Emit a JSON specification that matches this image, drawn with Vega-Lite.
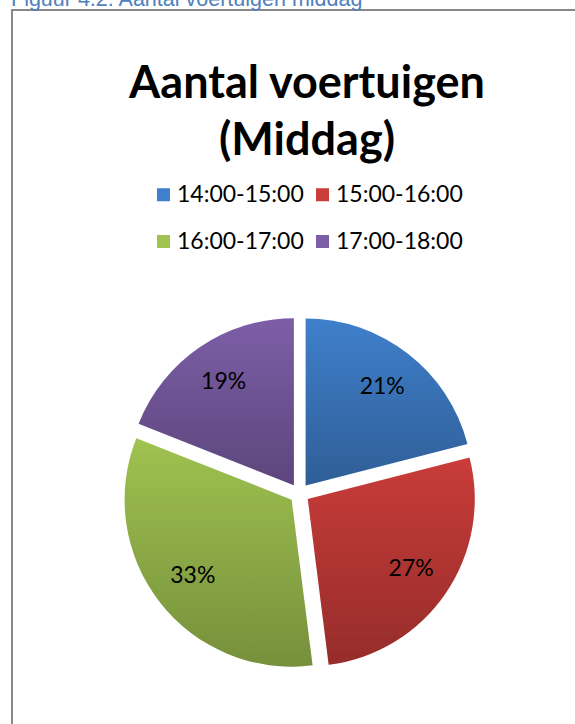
{
  "$schema": "https://vega.github.io/schema/vega-lite/v6.json",
  "autosize": "none",
  "width": 575,
  "height": 967,
  "padding": {"left": 12, "top": 10, "right": -12, "bottom": -253},
  "background": "white",
  "view": {"stroke": "#888888", "strokeWidth": 2, "fill": "white"},
  "title": {
    "text": "Figuur 4.2: Aantal voertuigen middag",
    "anchor": "start",
    "frame": "bounds",
    "font": "Liberation Sans",
    "fontSize": 21.5,
    "fontWeight": "normal",
    "color": "#4f81bd",
    "offset": 0,
    "dx": -1
  },
  "data": {
    "values": [
      {"period": "14:00-15:00", "value": 0.21},
      {"period": "15:00-16:00", "value": 0.27},
      {"period": "16:00-17:00", "value": 0.33},
      {"period": "17:00-18:00", "value": 0.19}
    ]
  },
  "layer": [
    {
      "mark": {
        "type": "arc",
        "outerRadius": 167,
        "xOffset": {"expr": "10*sin(PI*(datum.value_start+datum.value_end))"},
        "yOffset": {"expr": "-10*cos(PI*(datum.value_start+datum.value_end))"}
      },
      "encoding": {
        "theta": {"field": "value", "type": "quantitative", "stack": true},
        "order": {"field": "period", "type": "ordinal"},
        "color": {
          "field": "period",
          "type": "nominal",
          "scale": {
            "domain": ["14:00-15:00", "15:00-16:00", "16:00-17:00", "17:00-18:00"],
            "range": ["#3f7fcb", "#c93c39", "#9fc250", "#7c5ea7"]
          },
          "legend": {
            "orient": "none",
            "legendX": 117,
            "legendY": 52,
            "title": ["Aantal voertuigen", "(Middag)"],
            "titleFont": "Lato",
            "titleFontSize": 45,
            "titleFontWeight": "bold",
            "titleColor": "black",
            "titleLineHeight": 57,
            "titleAnchor": "middle",
            "titleAlign": "center",
            "titlePadding": 19,
            "titleLimit": 800,
            "columns": 2,
            "direction": "horizontal",
            "symbolType": "square",
            "symbolSize": 169,
            "symbolOffset": 0,
            "symbolStrokeWidth": 0,
            "symbolOpacity": 1,
            "labelFont": "Lato",
            "labelFontSize": 23,
            "labelColor": "black",
            "labelOffset": 2,
            "labelLimit": 400,
            "rowPadding": 23,
            "columnPadding": 7
          }
        }
      }
    },
    {
      "mark": {
        "type": "arc",
        "outerRadius": 167,
        "xOffset": {"expr": "10*sin(PI*(datum.value_start+datum.value_end))"},
        "yOffset": {"expr": "-10*cos(PI*(datum.value_start+datum.value_end))"},
        "color": {
          "gradient": "linear",
          "x1": 0, "y1": 0, "x2": 0, "y2": 1,
          "stops": [
            {"offset": 0, "color": "rgba(0,0,0,0)"},
            {"offset": 1, "color": "rgba(0,0,0,0.26)"}
          ]
        }
      },
      "encoding": {
        "theta": {"field": "value", "type": "quantitative", "stack": true},
        "order": {"field": "period", "type": "ordinal"},
        "detail": {"field": "period", "type": "nominal"}
      }
    },
    {
      "mark": {"type": "text", "radius": 135, "font": "Lato", "fontSize": 23, "color": "black"},
      "encoding": {
        "theta": {"field": "value", "type": "quantitative", "stack": true},
        "order": {"field": "period", "type": "ordinal"},
        "detail": {"field": "period", "type": "nominal"},
        "text": {"field": "value", "type": "quantitative", "format": ".0%"}
      }
    }
  ]
}
